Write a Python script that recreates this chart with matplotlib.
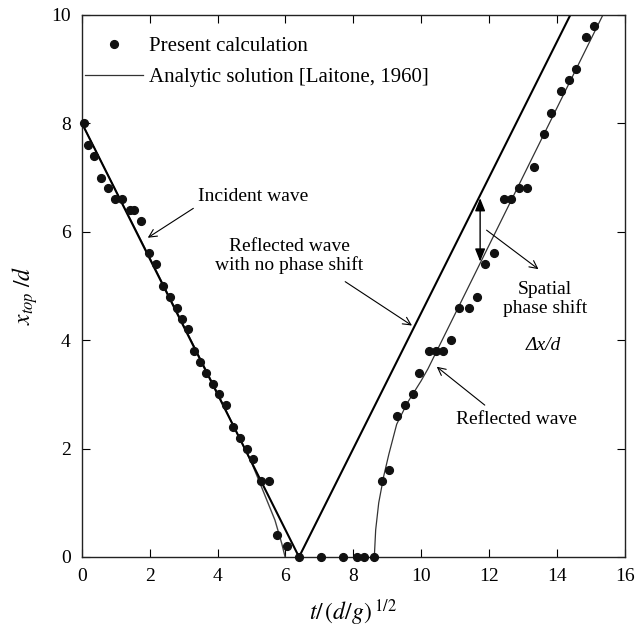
import matplotlib
matplotlib.use('Agg')
import matplotlib.pyplot as plt
from matplotlib.lines import Line2D

plt.rcParams['font.family'] = ['Liberation Serif', 'DejaVu Serif']
plt.rcParams['mathtext.fontset'] = 'stix'
plt.rcParams['font.size'] = 14

# present calculation (dots)
calc_t = [0.05, 0.17, 0.36, 0.56, 0.76, 0.97, 1.17, 1.42, 1.54, 1.74,
          1.98, 2.18, 2.38, 2.60, 2.79, 2.94, 3.14, 3.31, 3.48, 3.66,
          3.87, 4.05, 4.24, 4.44, 4.66, 4.86, 5.05, 5.28, 5.50, 5.74,
          6.06, 6.40, 7.05, 7.71, 8.12, 8.32, 8.61,
          8.84, 9.06, 9.28, 9.53, 9.75, 9.95, 10.22, 10.44, 10.64, 10.89,
          11.13, 11.41, 11.66, 11.89, 12.16, 12.45, 12.65, 12.90, 13.13,
          13.33, 13.63, 13.83, 14.12, 14.37, 14.57, 14.86, 15.10]
calc_x = [8.0, 7.6, 7.4, 7.0, 6.8, 6.6, 6.6, 6.4, 6.4, 6.2,
          5.6, 5.4, 5.0, 4.8, 4.6, 4.4, 4.2, 3.8, 3.6, 3.4,
          3.2, 3.0, 2.8, 2.4, 2.2, 2.0, 1.8, 1.4, 1.4, 0.4,
          0.2, 0.0, 0.0, 0.0, 0.0, 0.0, 0.0,
          1.4, 1.6, 2.6, 2.8, 3.0, 3.4, 3.8, 3.8, 3.8, 4.0,
          4.6, 4.6, 4.8, 5.4, 5.6, 6.6, 6.6, 6.8, 6.8,
          7.2, 7.8, 8.2, 8.6, 8.8, 9.0, 9.6, 9.8]

# analytic solution, incident wave (straight) and reflected with no phase shift
inc_t = [0.0, 6.4]
inc_x = [8.0, 0.0]
noshift_t = [6.4, 14.4]
noshift_x = [0.0, 10.0]

# analytic solution, incident wave near the wall (curved)
inc_curve_t = [0.0, 2.0, 4.0, 5.0, 5.25, 5.45, 5.69, 5.89, 5.99]
inc_curve_x = [8.0, 5.52, 3.02, 1.74, 1.36, 1.05, 0.68, 0.25, 0.0]

# analytic solution, reflected wave
refl_t = [8.62, 8.66, 8.75, 8.90, 9.05, 9.28, 9.60, 10.0, 10.2, 15.36]
refl_x = [0.0, 0.5, 1.0, 1.5, 1.9, 2.45, 2.85, 3.25, 3.47, 10.0]

fig = plt.figure(figsize=(6.38, 6.37), dpi=100)
ax = fig.add_axes([0.1285, 0.1256, 0.8505, 0.8509])

ax.plot(inc_curve_t, inc_curve_x, color='#444444', lw=1.0)
ax.plot(inc_t, inc_x, color='black', lw=1.5)
ax.plot(noshift_t, noshift_x, color='black', lw=1.5)
ax.plot(refl_t, refl_x, color='#333333', lw=0.9)
ax.plot(calc_t, calc_x, 'o', color='#111111', ms=5.6, clip_on=False, zorder=5)

ax.set_xlim(0, 16)
ax.set_ylim(0, 10)
ax.set_xticks(range(0, 17, 2))
ax.set_yticks(range(0, 11, 2))
ax.tick_params(direction='in', top=True, right=True, length=6, width=0.8,
               labelsize=14)
ax.tick_params(axis='x', pad=8)
ax.tick_params(axis='y', pad=8)
for s in ax.spines.values():
    s.set_linewidth(1.0)
    s.set_color('#222222')

ax.set_xlabel(r'$t/\,(d/g)^{\;1/2}$', fontsize=17)
ax.xaxis.set_label_coords(0.5, -0.075)
ax.set_ylabel(r'$x_{top}\;/d$', fontsize=17)
ax.yaxis.set_label_coords(-0.078, 0.482)

handles = [Line2D([], [], marker='o', ls='none', color='#111111', ms=5.6),
           Line2D([], [], color='#333333', lw=0.9)]
ax.legend(handles, ['Present calculation', 'Analytic solution [Laitone, 1960]'],
          loc='upper left', bbox_to_anchor=(-0.01, 0.975), frameon=False,
          fontsize=15, handlelength=2.8, handletextpad=0.3, labelspacing=0.55,
          borderaxespad=0.0)

arw = dict(arrowstyle='->', color='black', lw=0.8)
ax.annotate('Incident wave', xy=(1.94, 5.89), xytext=(5.06, 6.65),
            ha='center', va='center', fontsize=14,
            arrowprops=dict(arw, relpos=(0.0, 0.0), shrinkA=2, shrinkB=0))
ax.annotate('Reflected wave\nwith no phase shift', xy=(9.73, 4.27),
            xytext=(6.12, 5.55), ha='center', va='center', fontsize=14,
            linespacing=1.1,
            arrowprops=dict(arw, relpos=(0.8, 0.0), shrinkA=6, shrinkB=0))
ax.annotate('Reflected wave', xy=(10.46, 3.51), xytext=(12.82, 2.53),
            ha='center', va='center', fontsize=14,
            arrowprops=dict(arw, relpos=(0.3, 1.0), shrinkA=4, shrinkB=0))
ax.annotate('', xy=(11.74, 5.45), xytext=(11.74, 6.62),
            arrowprops=dict(arrowstyle='<|-|>,head_length=0.55,head_width=0.22',
                            color='black', lw=1.0, shrinkA=0, shrinkB=0))
ax.annotate('', xy=(13.46, 5.31), xytext=(11.93, 6.03),
            arrowprops=dict(arw, shrinkA=0, shrinkB=0))
ax.text(13.65, 4.76, 'Spatial\nphase shift', ha='center', va='center',
        fontsize=14, linespacing=1.1)
ax.text(13.6, 3.91, 'Δx/d', ha='center', va='center',
        fontsize=14, fontstyle='italic')

fig.savefig('out.png', dpi=100)
